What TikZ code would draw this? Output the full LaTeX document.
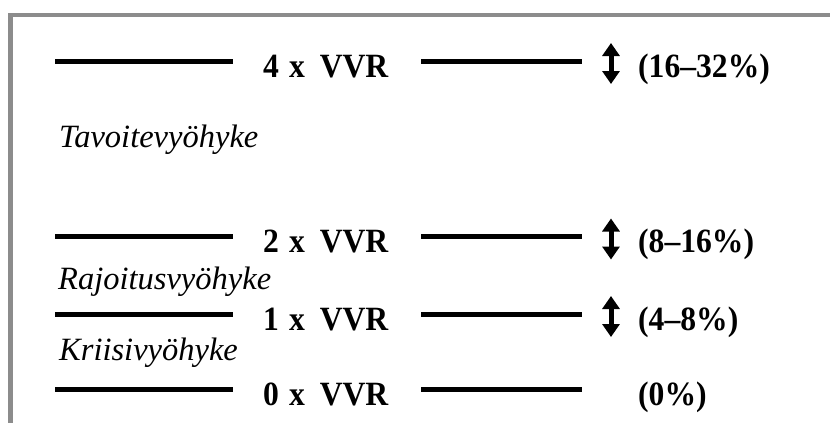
\documentclass[tikz,border=0pt]{standalone}
\usepackage{fontspec}
\setmainfont{Liberation Serif}
% slightly condensed, taller cut of the same face for the bold labels
\newfontfamily\tallserif[FakeStretch=0.93]{Liberation Serif}
\usetikzlibrary{arrows.meta}

\definecolor{framegray}{RGB}{140,140,140}
\tikzset{
  framebar/.style={draw=framegray, line width=4.6pt, line cap=rect},
  levelbar/.style={line width=5pt},
  leveltext/.style={anchor=base west, inner sep=0pt, font=\tallserif\fontsize{34}{34}\selectfont\bfseries},
  pcttext/.style={anchor=base west, inner sep=0pt, font=\tallserif\fontsize{34}{34}\selectfont\bfseries},
  zonetext/.style={anchor=base west, inner sep=0pt, font=\fontsize{32.5}{32.5}\selectfont\itshape},
  rangearrow/.style={line width=5pt, {Triangle[width=17pt,length=13pt]}-{Triangle[width=17pt,length=13pt]}},
}

\begin{document}
\begin{tikzpicture}[x=1pt, y=-1pt]
  \useasboundingbox (0,0) rectangle (830,423);

  % frame corner (top and left edges only)
  \draw[framebar] (10.3,430) -- (10.3,15) -- (840,15);

  % level rows: left bar, label, right bar, range arrow, percentage
  \foreach \k/\base/\pct/\arr in {4/77/(16–32\%)/1, 2/252.5/(8–16\%)/1, 1/330/(4–8\%)/1, 0/405/(0\%)/0} {
    \coordinate (l1-\k) at (55,\base-16);
    \coordinate (l2-\k) at (233,\base-16);
    \coordinate (r1-\k) at (421,\base-16);
    \coordinate (r2-\k) at (582,\base-16);
    \draw[levelbar] (l1-\k) -- (l2-\k);
    \draw[levelbar] (r1-\k) -- (r2-\k);
    \node[leveltext] (lv-\k) at (263,\base) {\k\hspace{10pt}x\hspace{15pt}VVR};
    \node[pcttext] (pc-\k) at (638,\base) {\pct};
    \ifnum\arr=1
      \coordinate (at-\k) at (611,\base-34);
      \coordinate (ab-\k) at (611,\base+7);
      \draw[rangearrow] (at-\k) -- (ab-\k);
    \fi
  }

  % zone names
  \node[zonetext] (zt) at (59,147) {Tavoitevyöhyke};
  \node[zonetext] (zr) at (58,289) {Rajoitusvyöhyke};
  \node[zonetext] (zk) at (59,360) {Kriisivyöhyke};
\end{tikzpicture}
\end{document}
